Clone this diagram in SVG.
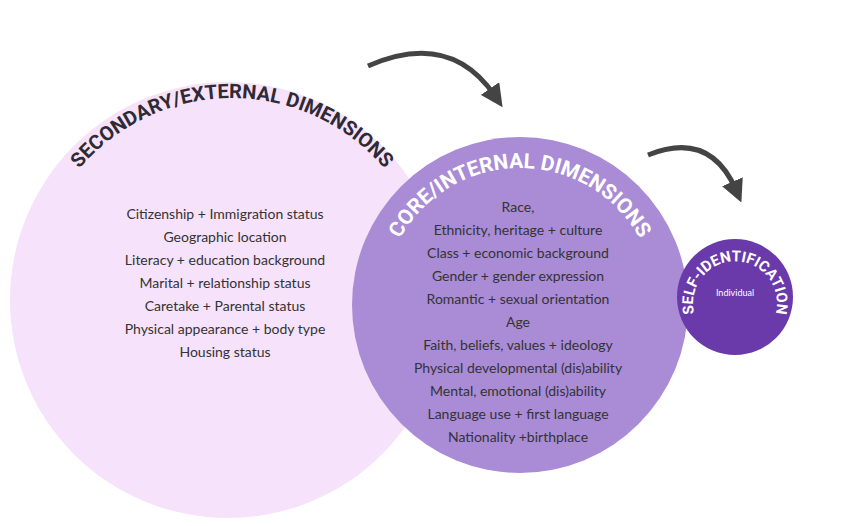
<svg xmlns="http://www.w3.org/2000/svg" width="861" height="526" viewBox="0 0 861 526">
<style>
.l{font-family:"Lato","Liberation Sans",sans-serif;font-size:14px;fill:#333;text-anchor:middle}
.t{font-family:"Roboto","Liberation Sans",sans-serif;font-weight:bold;text-anchor:middle}
</style>
<defs>
<marker id="ah" viewBox="0 0 10 10" refX="4" refY="5" markerWidth="4.5" markerHeight="4.5" orient="auto"><path d="M0,0L10,5L0,10z" fill="#444"/></marker>
<path id="p1" d="M32,298 A200 200 0 0 1 432,298"/>
<path id="p2" d="M383,305 A137 137 0 0 1 657,305"/>
<path id="p3" d="M701,328 A42 42 0 1 1 769,328"/>
</defs>
<g id="secondary">
<circle cx="228" cy="300" r="218" fill="#f6e2fb"/>
<text class="t" font-size="20" fill="#2f2a33"><textPath href="#p1" startOffset="50%">SECONDARY/EXTERNAL DIMENSIONS</textPath></text>
<text class="l" x="225" y="219">Citizenship + Immigration status</text>
<text class="l" x="225" y="242">Geographic location</text>
<text class="l" x="225" y="265">Literacy + education background</text>
<text class="l" x="225" y="288">Marital + relationship status</text>
<text class="l" x="225" y="311">Caretake + Parental status</text>
<text class="l" x="225" y="334">Physical appearance + body type</text>
<text class="l" x="225" y="357">Housing status</text>
</g>
<g id="core">
<circle cx="520" cy="305" r="168" fill="#a98bd6"/>
<text class="t" font-size="21" fill="#fff"><textPath href="#p2" startOffset="50%">CORE/INTERNAL DIMENSIONS</textPath></text>
<text class="l" x="518" y="212">Race,</text>
<text class="l" x="518" y="235">Ethnicity, heritage + culture</text>
<text class="l" x="518" y="258">Class + economic background</text>
<text class="l" x="518" y="281">Gender + gender expression</text>
<text class="l" x="518" y="304">Romantic + sexual orientation</text>
<text class="l" x="518" y="327">Age</text>
<text class="l" x="518" y="350">Faith, beliefs, values + ideology</text>
<text class="l" x="518" y="373">Physical developmental (dis)ability</text>
<text class="l" x="518" y="396">Mental, emotional (dis)ability</text>
<text class="l" x="518" y="419">Language use + first language</text>
<text class="l" x="518" y="442">Nationality +birthplace</text>
</g>
<g id="self">
<circle cx="735" cy="297" r="58" fill="#6a3aaa"/>
<text class="t" font-size="15" fill="#fff"><textPath href="#p3" startOffset="50%">SELF-IDENTIFICATION</textPath></text>
<text x="735" y="296" font-family="Lato,'Liberation Sans',sans-serif" font-size="9" fill="#fff" text-anchor="middle">Individual</text>
</g>
<g id="connectors" fill="none" stroke="#444" stroke-width="5">
<path d="M368,66 Q450,30 495,96" marker-end="url(#ah)"/>
<path d="M648,155 Q710,130 736,190" marker-end="url(#ah)"/>
</g>
</svg>
